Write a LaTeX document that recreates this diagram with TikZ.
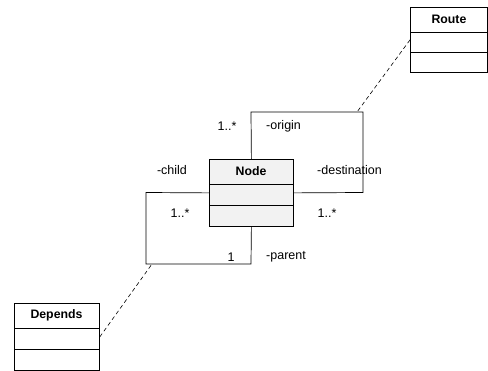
\documentclass[tikz,border=0pt]{standalone}
\usepackage{fontspec}
\setmainfont{Liberation Sans}
\begin{document}
\begin{tikzpicture}[x=1pt,y=-1pt,
  box/.style={draw=black, line width=0.8pt, inner sep=0pt, anchor=north west},
  title/.style={font=\fontsize{12.3}{14}\selectfont\bfseries, inner sep=0pt},
  lbl/.style={font=\fontsize{12.5}{14}\selectfont, inner sep=0pt},
  link/.style={draw=black, line width=0.7pt},
  trace/.style={draw=black, line width=0.6pt, dashed, dash pattern=on 4pt off 3pt}]
\useasboundingbox (0,0) rectangle (488,371);

% class Route
\node[box, fill=white, minimum width=77pt, minimum height=65pt] (route) at (410,7) {};
\draw (410,32) -- (487,32) (410,52) -- (487,52);
\node[title] (routeT) at (449,19.5) {Route};

% class Node
\node[box, fill=black!5, minimum width=84pt, minimum height=67pt] (node) at (209,159) {};
\draw[line width=0.8pt] (209,184) -- (293,184) (209,205) -- (293,205);
\node[title] (nodeT) at (251,171.5) {Node};

% class Depends
\node[box, fill=white, minimum width=85pt, minimum height=67pt] (dep) at (14,303) {};
\draw (14,328) -- (99,328) (14,349) -- (99,349);
\node[title] (depT) at (56.5,315.5) {Depends};

% origin / destination self association
\coordinate (o1) at (251,112);
\coordinate (o2) at (363,112);
\coordinate (o3) at (363,192.5);
\draw[link] (node.north) -- (o1) -- (o2) -- (o3) -- (node.east);

% child / parent self association
\coordinate (c1) at (146,192.5);
\coordinate (c2) at (146,264);
\coordinate (c3) at (251,264);
\draw[link] (node.west) -- (c1) -- (c2) -- (c3) -- (node.south);

% association classes
\coordinate (ra) at (357,112);
\coordinate (da) at (152,264);
\draw[trace] (route.west) -- (ra);
\draw[trace] (dep.east) -- (da);

% role names and multiplicities
\node[lbl] (m1) at (227,126) {1..*};
\node[lbl, anchor=west] (rOrig) at (266,126) {-origin};
\node[lbl] (rChild) at (172,170) {-child};
\node[lbl, anchor=west] (rDest) at (317,170) {-destination};
\node[lbl] (m2) at (180,213) {1..*};
\node[lbl] (m3) at (327,213) {1..*};
\node[lbl] (m4) at (231,257) {1};
\node[lbl, anchor=west] (rPar) at (266,257) {-parent};
\end{tikzpicture}
\end{document}
